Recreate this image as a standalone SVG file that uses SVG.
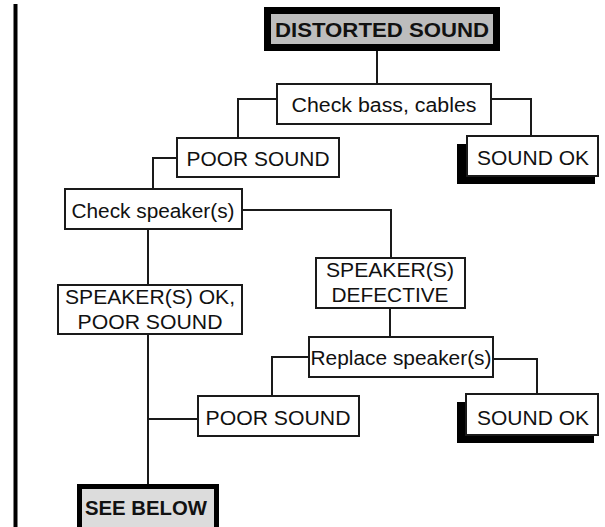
<svg xmlns="http://www.w3.org/2000/svg" width="605" height="527" viewBox="0 0 605 527">
<style>
  .box{fill:#fff;stroke:#1a1a1a;stroke-width:2}
  .shadow{fill:#000}
  .t{font-family:"Liberation Sans",Arial,sans-serif;font-size:20px;fill:#111;text-anchor:middle}
  .b{font-weight:bold}
  .c{fill:none;stroke:#1a1a1a;stroke-width:2}
</style>
<rect width="605" height="527" fill="#fff"/>
<rect x="13.5" y="4" width="4" height="523" fill="#000"/>
<g id="connectors">
  <path class="c" d="M377,51 V83"/>
  <path class="c" d="M277,99 H238 V138"/>
  <path class="c" d="M491,99 H531 V136"/>
  <path class="c" d="M177,158 H153 V189"/>
  <path class="c" d="M148,229 V285"/>
  <path class="c" d="M242,210 H391 V258"/>
  <path class="c" d="M390,308 V337"/>
  <path class="c" d="M309,357 H272 V396"/>
  <path class="c" d="M493,359 H537 V394"/>
  <path class="c" d="M148,334 V485"/>
  <path class="c" d="M148,419 H198"/>
</g>
<g id="distorted">
  <rect x="267.5" y="10.5" width="229" height="37" fill="#bdbdbd" stroke="#000" stroke-width="7"/>
  <text class="t b" x="382" y="37" font-size="22" textLength="214" lengthAdjust="spacingAndGlyphs">DISTORTED SOUND</text>
</g>
<g id="check-bass">
  <rect class="box" x="277" y="84" width="214" height="40"/>
  <text class="t" x="384" y="112" textLength="185" lengthAdjust="spacingAndGlyphs">Check bass, cables</text>
</g>
<g id="poor-sound-1">
  <rect class="box" x="177" y="138" width="162" height="39"/>
  <text class="t" x="258" y="166" textLength="143" lengthAdjust="spacingAndGlyphs">POOR SOUND</text>
</g>
<g id="sound-ok-1">
  <rect class="shadow" x="457" y="144" width="138" height="40"/>
  <rect class="box" x="467" y="136" width="131" height="40"/>
  <text class="t" x="533" y="165" textLength="112" lengthAdjust="spacingAndGlyphs">SOUND OK</text>
</g>
<g id="check-speaker">
  <rect class="box" x="65" y="189" width="177" height="40"/>
  <text class="t" x="153" y="218" textLength="163" lengthAdjust="spacingAndGlyphs">Check speaker(s)</text>
</g>
<g id="speaker-ok">
  <rect class="box" x="58" y="285" width="184" height="49"/>
  <text class="t" x="150" y="304" textLength="170" lengthAdjust="spacingAndGlyphs">SPEAKER(S) OK,</text>
  <text class="t" x="150" y="329" textLength="145" lengthAdjust="spacingAndGlyphs">POOR SOUND</text>
</g>
<g id="speaker-defective">
  <rect class="box" x="316" y="258" width="149" height="50"/>
  <text class="t" x="390" y="277" textLength="128" lengthAdjust="spacingAndGlyphs">SPEAKER(S)</text>
  <text class="t" x="390" y="302" textLength="117" lengthAdjust="spacingAndGlyphs">DEFECTIVE</text>
</g>
<g id="replace-speaker">
  <rect class="box" x="309" y="337" width="184" height="40"/>
  <text class="t" x="401" y="365" textLength="181" lengthAdjust="spacingAndGlyphs">Replace speaker(s)</text>
</g>
<g id="poor-sound-2">
  <rect class="box" x="198" y="396" width="161" height="40"/>
  <text class="t" x="278" y="425" textLength="145" lengthAdjust="spacingAndGlyphs">POOR SOUND</text>
</g>
<g id="sound-ok-2">
  <rect class="shadow" x="457" y="402" width="137" height="41"/>
  <rect class="box" x="466" y="394" width="132" height="41"/>
  <text class="t" x="533" y="425" textLength="112" lengthAdjust="spacingAndGlyphs">SOUND OK</text>
</g>
<g id="see-below">
  <rect x="79.5" y="486.5" width="137" height="48" fill="#dcdcdc" stroke="#000" stroke-width="5"/>
  <text class="t b" x="146" y="515" font-size="21" textLength="122" lengthAdjust="spacingAndGlyphs">SEE BELOW</text>
</g>
</svg>
